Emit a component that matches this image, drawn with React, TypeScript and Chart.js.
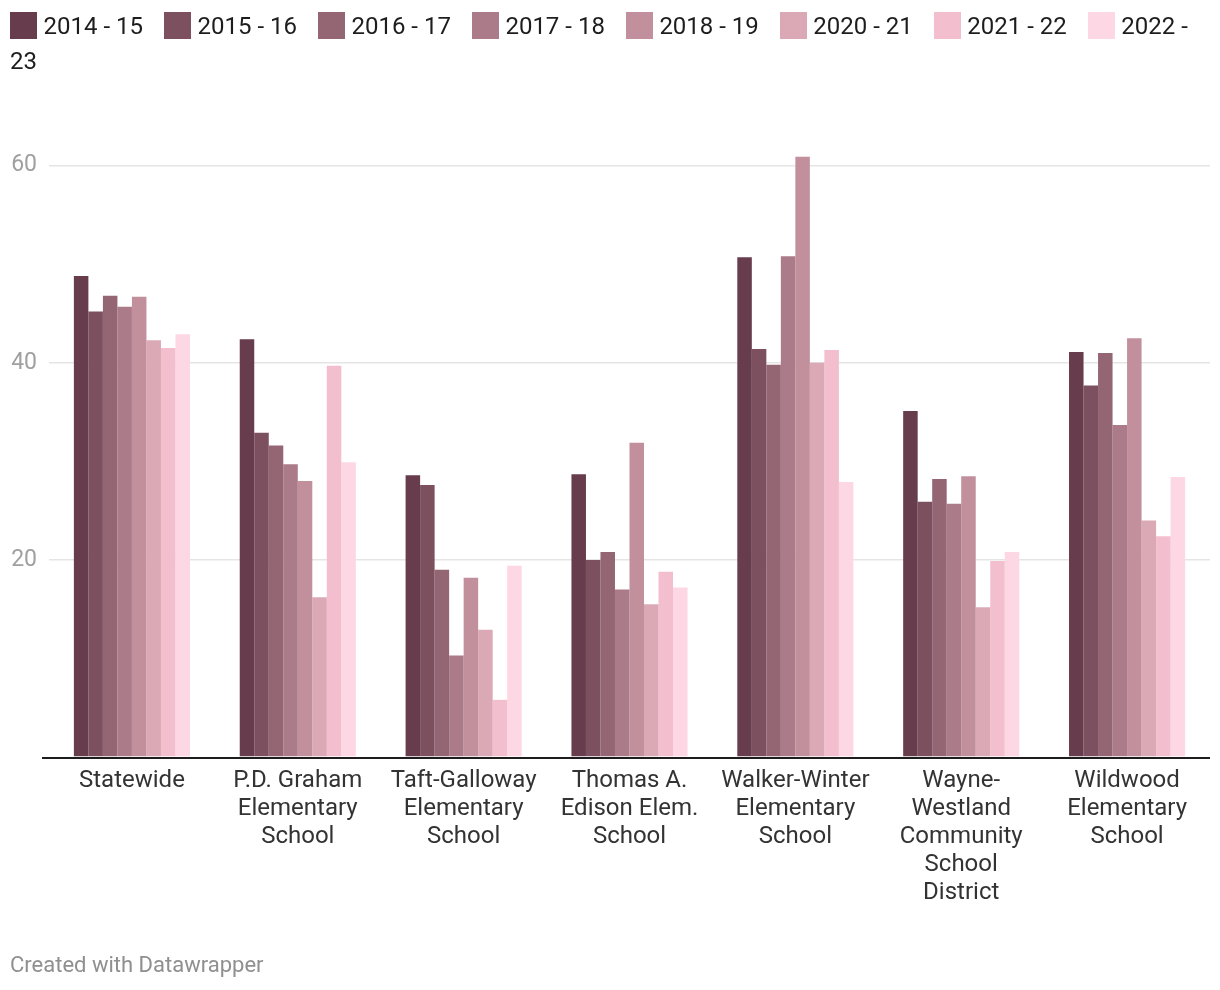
import React, { useEffect, useRef } from "react";
import { Chart, registerables } from "chart.js";

Chart.register(...registerables);

const categories: string[][] = [
  ["Statewide"],
  ["P.D. Graham", "Elementary", "School"],
  ["Taft-Galloway", "Elementary", "School"],
  ["Thomas A.", "Edison Elem.", "School"],
  ["Walker-Winter", "Elementary", "School"],
  ["Wayne-", "Westland", "Community", "School", "District"],
  ["Wildwood", "Elementary", "School"],
];

const seriesLabels = [
  "2014 - 15",
  "2015 - 16",
  "2016 - 17",
  "2017 - 18",
  "2018 - 19",
  "2020 - 21",
  "2021 - 22",
  "2022 - 23",
];

const seriesColors = [
  "#673c4c",
  "#7c505e",
  "#946674",
  "#ab7b89",
  "#c2909d",
  "#dba8b6",
  "#f3bfcf",
  "#fed7e5",
];

const y2014 = [48.8, 42.4, 28.6, 28.7, 50.7, 35.1, 41.1];
const y2015 = [45.2, 32.9, 27.6, 20.0, 41.4, 25.9, 37.7];
const y2016 = [46.8, 31.6, 19.0, 20.8, 39.8, 28.2, 41.0];
const y2017 = [45.7, 29.7, 10.3, 17.0, 50.8, 25.7, 33.7];
const y2018 = [46.7, 28.0, 18.2, 31.9, 60.9, 28.5, 42.5];
const y2020 = [42.3, 16.2, 12.9, 15.5, 40.0, 15.2, 24.0];
const y2021 = [41.5, 39.7, 5.8, 18.8, 41.3, 19.9, 22.4];
const y2022 = [42.9, 29.9, 19.4, 17.2, 27.9, 20.8, 28.4];

const seriesValues = [y2014, y2015, y2016, y2017, y2018, y2020, y2021, y2022];

const yTickValues = [0, 20, 40, 60];
const yMax = 62;

const FONT = "Roboto, 'Noto Sans', sans-serif";

const baselinePlugin = {
  id: "baseline",
  afterDatasetsDraw(chart: any) {
    const { ctx, chartArea } = chart;
    ctx.save();
    ctx.strokeStyle = "#1d1d1d";
    ctx.lineWidth = 2;
    ctx.beginPath();
    ctx.moveTo(chartArea.left - 7, chartArea.bottom + 1);
    ctx.lineTo(chartArea.right, chartArea.bottom + 1);
    ctx.stroke();
    ctx.restore();
  },
};

export default function App() {
  const canvasRef = useRef<HTMLCanvasElement | null>(null);

  useEffect(() => {
    document.body.style.margin = "0";
    const canvas = canvasRef.current;
    if (!canvas) return;
    const chart = new Chart(canvas, {
      type: "bar",
      data: {
        labels: categories,
        datasets: seriesLabels.map((label, i) => ({
          label,
          data: seriesValues[i],
          backgroundColor: seriesColors[i],
          borderWidth: 0,
          categoryPercentage: 0.7,
          barPercentage: 1.0,
        })),
      },
      options: {
        animation: false,
        responsive: false,
        maintainAspectRatio: false,
        layout: { padding: { top: 146, right: 10, left: 0, bottom: 0 } },
        plugins: {
          legend: { display: false },
          tooltip: { enabled: false },
        },
        scales: {
          x: {
            grid: { display: false, drawTicks: false },
            border: { display: false },
            ticks: {
              padding: 10,
              color: "#333333",
              maxRotation: 0,
              autoSkip: false,
              font: { family: FONT, size: 24, lineHeight: "28px" as any },
            },
            afterFit(scale: any) {
              scale.height = 233;
            },
          },
          y: {
            min: 0,
            max: yMax,
            border: { display: false },
            grid: {
              drawTicks: false,
              lineWidth: 1.5,
              color: (ctx: any) =>
                ctx.tick && ctx.tick.value === 0 ? "rgba(0,0,0,0)" : "#e5e5e5",
            },
            afterBuildTicks(scale: any) {
              scale.ticks = yTickValues.map((v) => ({ value: v }));
            },
            ticks: {
              padding: 12,
              color: "#a0a0a0",
              font: { family: FONT, size: 23 },
              callback: (v: any) => (v === 0 ? "" : String(v)),
            },
            afterFit(scale: any) {
              scale.width = 49;
            },
          },
        },
      },
      plugins: [baselinePlugin],
    });
    return () => chart.destroy();
  }, []);

  return (
    <div
      style={{
        position: "relative",
        width: 1220,
        height: 990,
        background: "#ffffff",
        fontFamily: FONT,
        overflow: "hidden",
      }}
    >
      <canvas
        ref={canvasRef}
        width={1220}
        height={990}
        style={{ position: "absolute", left: 0, top: 0, width: 1220, height: 990 }}
      />
      <div
        style={{
          position: "absolute",
          left: 10,
          top: 9,
          width: 1200,
          fontSize: 24,
          lineHeight: "35px",
          color: "#1d1d1d",
        }}
      >
        {seriesLabels.map((label, i) => (
          <span key={label} style={{ marginRight: 21 }}>
            <span
              style={{
                display: "inline-block",
                width: 27,
                height: 27,
                background: seriesColors[i],
                verticalAlign: "middle",
                marginRight: 6.5,
                position: "relative",
                top: -2,
              }}
            />
            {label}
          </span>
        ))}
      </div>
      <div
        style={{
          position: "absolute",
          left: 10,
          top: 951,
          fontSize: 22,
          color: "#8f8f8f",
          lineHeight: "28px",
        }}
      >
        Created with Datawrapper
      </div>
    </div>
  );
}
